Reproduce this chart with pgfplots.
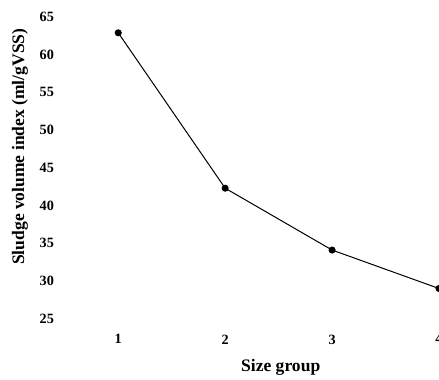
\documentclass[border=0pt]{standalone}
\usepackage{fontspec}
\setmainfont{Liberation Serif}
\usepackage{pgfplots}
\pgfplotsset{compat=1.18}
\begin{document}
\begin{tikzpicture}
\begin{axis}[
  scale only axis,
  width=224pt, height=180.6pt,
  xmin=0.5, xmax=4, ymin=25, ymax=65,
  axis line style={draw=none},
  major tick length=0pt,
  xtick={1,2,3,4}, ytick={25,30,...,65},
  /pgf/number format/assume math mode=true,
  ticklabel style={font=\bfseries\fontsize{8.5}{10}\selectfont},
  xticklabel style={yshift=-6pt},
  yticklabel style={xshift=-3pt},
  xlabel={Size group},
  ylabel={Sludge volume index (ml/gVSS)},
  label style={font=\bfseries\fontsize{10.5}{12}\selectfont},
  xlabel style={at={(axis description cs:0.577,-0.16)}, anchor=center},
  ylabel style={at={(axis description cs:-0.12,0.57)}, anchor=center},
  clip=false,
]
\addplot[black, line width=0.6pt, mark=*, mark size=1.8pt] coordinates {
  (1,62.9) (2,42.3) (3,34.1) (4,29.0)
};
\coordinate (bl) at (axis cs:-0.106,16.92);
\coordinate (tr) at (axis cs:4.0,67.25);
\end{axis}
\pgfresetboundingbox
\path[use as bounding box] (bl) rectangle (tr);
\end{tikzpicture}
\end{document}
